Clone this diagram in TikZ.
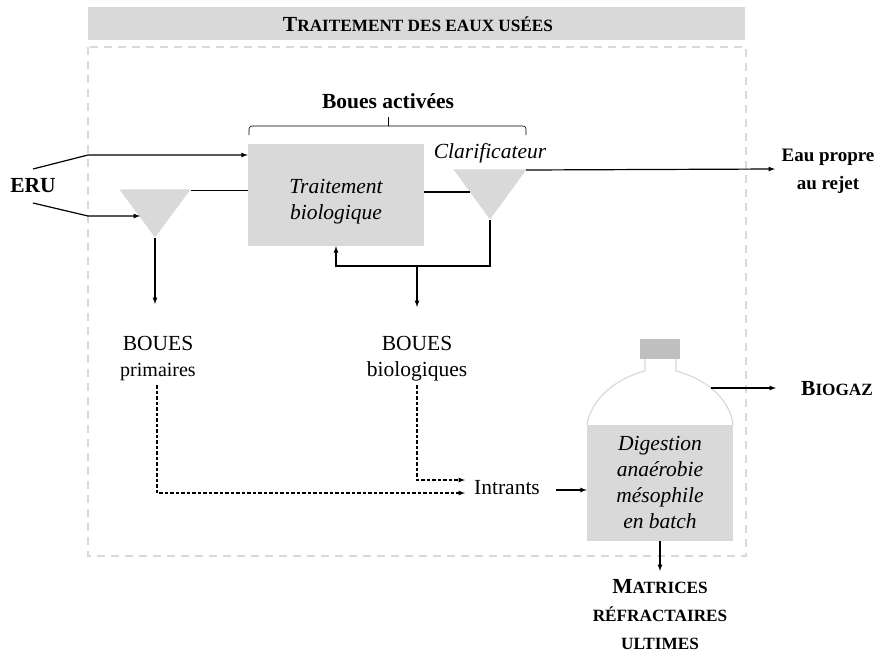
\documentclass[tikz,border=0pt]{standalone}
\usepackage{fontspec}
\setmainfont{Liberation Serif}
\usetikzlibrary{shapes.geometric}
\definecolor{boxgray}{HTML}{D9D9D9}
\definecolor{capgray}{HTML}{BFBFBF}
\newcommand{\bigsmall}[2]{{\fontsize{21.5}{26}\selectfont #1}{\fontsize{17.2}{26}\selectfont #2}}
\tikzset{
    flow/.style={draw=black,line width=1.2pt},
    flowtip/.style={flow,-latex},
    dashflow/.style={flowtip,dash pattern=on 3.5pt off 2pt},
    settler/.style={isosceles triangle,shape border rotate=-90,isosceles triangle stretches,
        fill=boxgray,inner sep=0pt,anchor=apex},
    tank/.style={fill=boxgray,inner sep=0pt},
    label/.style={align=center,font=\fontsize{21.5}{26}\selectfont},
    italiclabel/.style={label,font=\fontsize{21.5}{26}\selectfont\itshape},
    boldlabel/.style={align=center,font=\fontsize{21.5}{28}\selectfont\bfseries}
}
\begin{document}
\begin{tikzpicture}[x=1pt,y=-1pt]
    \useasboundingbox (0,0) rectangle (890,653);
    \draw[boxgray,line width=1.2pt,dash pattern=on 8pt off 6pt] (88,47) rectangle (746,556);
    \begin{scope}[every node/.style={tank}]
        \node[minimum width=657pt,minimum height=33pt] (header) at (416.5,23.5) {};
        \node[minimum width=176pt,minimum height=102pt] (biobox) at (336,195) {};
        \node[minimum width=146pt,minimum height=116pt] (digester) at (660,483) {};
    \end{scope}
    \node[boldlabel] (headertext) at (418,24) {\bigsmall{T}{RAITEMENT DES EAUX USÉES}};
    \node[italiclabel] (biotext) at (336,202) {Traitement\\biologique};
    \node[italiclabel] (digesttext) at (660,482) {Digestion\\anaérobie\\mésophile\\en batch};
    \node[settler,minimum width=71pt,minimum height=48pt] (primary) at (155,238) {};
    \node[settler,minimum width=73pt,minimum height=50pt] (clarifier) at (490,220) {};
    \node[italiclabel] (clariflabel) at (490,153) {Clarificateur};
    \node[boldlabel] (activated) at (388,101) {Boues activées};
    \node[boldlabel] (eru) at (33,186) {ERU};
    \node[boldlabel,font=\fontsize{19}{28}\selectfont\bfseries] (water) at (828,171) {Eau propre\\au rejet};
    \node[label] (primsludge) at (158,359) {BOUES\\{\fontsize{20}{26}\selectfont primaires}};
    \node[label] (biosludge) at (417,359) {BOUES\\biologiques};
    \node[label] (inputs) at (507,488) {Intrants};
    \node[boldlabel] (biogas) at (837,389) {\bigsmall{B}{IOGAZ}};
    \node[boldlabel,inner sep=0pt] (matrices) at (660,615) {\bigsmall{M}{ATRICES}\\{\fontsize{17.2}{27}\selectfont RÉFRACTAIRES}\\{\fontsize{17.2}{27}\selectfont ULTIMES}};
    % flask
    \node[fill=capgray,minimum width=40pt,minimum height=20pt,inner sep=0pt] (cap) at (660,349) {};
    \draw[boxgray,line width=1.2pt] (digester.north west) .. controls (591,400) and (614,379) .. (645,371)
        -- (645,359) (676,359) -- (676,371) .. controls (707,379) and (730,400) .. (digester.north east);
    % brace
    \draw[black,line width=.6pt,rounded corners=3pt] (249,135) -- (249,126) -- (526,126) -- (526,135);
    \draw[black,line width=.6pt] (388,126) -- (388,117);
    % water line
    \coordinate (eruhigh) at (33,169);
    \coordinate (erulow) at (33,203);
    \coordinate (kink1) at (88,155);
    \coordinate (kink2) at (88,216);
    \coordinate (hit) at (140,216);
    \coordinate (joint) at (417,266);
    \draw[flowtip] (eruhigh) -- (kink1) -- (kink1-|biobox.west);
    \draw[flowtip] (erulow) -- (kink2) -- (hit);
    \draw[flow] (primary.left corner|-0,190.5) -- (biobox.west|-0,190.5);
    \draw[flow] (biobox.east|-0,192) -- (470,192);
    \draw[flowtip] (primary.apex) -- (155,304);
    \draw[flowtip] (clarifier.apex) -- (490,266) -- (336,266) -- (biobox.south);
    \draw[flowtip] (joint) -- (417,307);
    \draw[flowtip] (526,170) -- (775,169);
    \draw[dashflow] (157,385) -- (157,493) -- (465,493);
    \draw[dashflow] (417,385) -- (417,480) -- (465,480);
    \draw[flowtip] (556,490) -- (digester.west|-0,490);
    \draw[flowtip] (711,388) -- (776,388);
    \draw[flowtip] (digester.south) -- (660,571);
\end{tikzpicture}
\end{document}
